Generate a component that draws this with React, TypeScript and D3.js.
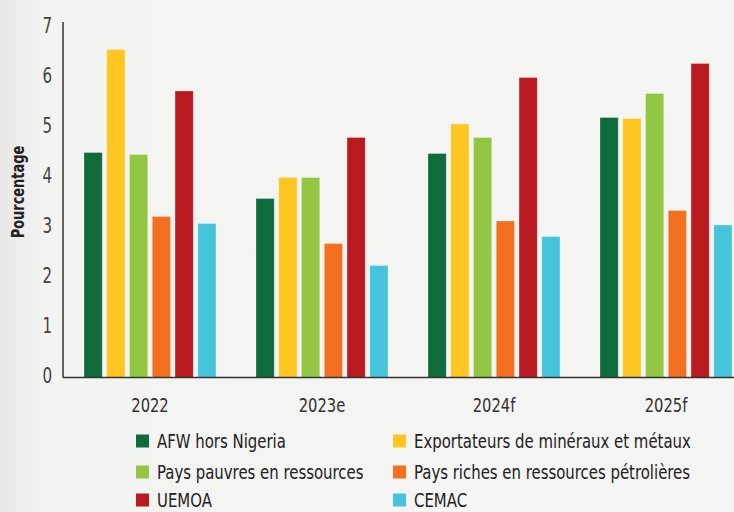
import React from 'react';
import * as d3 from 'd3';

// categories on the x axis
const years = ['2022', '2023e', '2024f', '2025f'];

// series (legend order)
const seriesNames = [
  'AFW hors Nigeria',
  'Exportateurs de minéraux et métaux',
  'Pays pauvres en ressources',
  'Pays riches en ressources pétrolières',
  'UEMOA',
  'CEMAC',
];
const seriesColors = ['#0e6b3b', '#ffc520', '#92c643', '#f37021', '#b81a20', '#46c4dc'];

// values per series, one per year
const afwHorsNigeria = [4.5, 3.58, 4.48, 5.2];
const exportateursMineraux = [6.56, 4.0, 5.07, 5.18];
const paysPauvres = [4.46, 4.0, 4.8, 5.68];
const paysRichesPetrole = [3.22, 2.68, 3.13, 3.34];
const uemoa = [5.73, 4.8, 6.0, 6.28];
const cemac = [3.08, 2.24, 2.82, 3.05];

const seriesValues = [afwHorsNigeria, exportateursMineraux, paysPauvres, paysRichesPetrole, uemoa, cemac];

const yTicks = [0, 1, 2, 3, 4, 5, 6, 7];

const W = 734;
const H = 512;
// the original uses a condensed face; squeeze DejaVu Sans Condensed a bit to match
const FONT = "'DejaVu Sans Condensed', 'Liberation Sans Narrow', sans-serif";

export default function App() {
  const x0 = 64;
  const yZero = 377.5;

  const y = d3.scaleLinear().domain([0, 7]).range([yZero, 27.5]);

  const x = d3.scaleBand<string>()
    .domain(years)
    .range([x0, x0 + 172 * 4])
    .paddingInner(0)
    .paddingOuter(0);

  const xInner = d3.scaleBand<string>()
    .domain(seriesNames)
    .range([20, x.bandwidth() - 20])
    .paddingInner(0.2)
    .paddingOuter(0);

  // legend layout: two columns, three rows
  const legendCols = [136, 393];
  const legendRows = [441, 472, 500];

  return (
    <div style={{ position: 'fixed', left: 0, top: 0 }}>
      <svg width={W} height={H} style={{ display: 'block' }}>
        <defs>
          <linearGradient id="bg" x1="0" x2="1" y1="0" y2="0">
            <stop offset="0" stopColor="#e8e8e6" />
            <stop offset="0.06" stopColor="#f3f3f1" />
            <stop offset="1" stopColor="#f5f5f3" />
          </linearGradient>
        </defs>
        <rect x={0} y={0} width={W} height={H} fill="url(#bg)" />

        {/* bars */}
        {years.map((yr, i) => (
          <g key={yr} transform={`translate(${x(yr)},0)`}>
            {seriesNames.map((s, j) => {
              const v = seriesValues[j][i];
              return (
                <rect
                  key={s}
                  x={xInner(s)}
                  y={y(v)}
                  width={xInner.bandwidth()}
                  height={yZero - y(v)}
                  fill={seriesColors[j]}
                  stroke="#ffffff"
                  strokeOpacity={0.35}
                  strokeWidth={0.8}
                />
              );
            })}
          </g>
        ))}

        {/* axes */}
        <line x1={63} x2={63} y1={22} y2={yZero} stroke="#333" strokeWidth={1.5} />
        <line x1={63} x2={W} y1={yZero} y2={yZero} stroke="#333" strokeWidth={1.5} />

        {/* y ticks */}
        {yTicks.map((t) => (
          <text
            key={t}
            transform={`translate(52,${y(t) + 5}) scale(0.8,1)`}
            textAnchor="end"
            fontFamily={FONT}
            fontSize={21}
            fill="#444"
          >
            {t}
          </text>
        ))}

        {/* x tick labels */}
        {years.map((yr) => (
          <text
            key={yr}
            transform={`translate(${(x(yr) as number) + x.bandwidth() / 2},412) scale(0.82,1)`}
            textAnchor="middle"
            fontFamily={FONT}
            fontSize={20}
            fill="#333"
          >
            {yr}
          </text>
        ))}

        {/* y axis title */}
        <text
          transform="translate(24,192) rotate(-90) scale(0.8,1)"
          textAnchor="middle"
          fontFamily={FONT}
          fontSize={18}
          fontWeight="bold"
          fill="#222"
        >
          Pourcentage
        </text>

        {/* legend */}
        {seriesNames.map((s, j) => {
          const col = legendCols[j % 2];
          const row = legendRows[Math.floor(j / 2)];
          return (
            <g key={s}>
              <rect x={col} y={row - 6.5} width={13} height={13} fill={seriesColors[j]} />
              <text
                transform={`translate(${col + 21},${row + 7}) scale(0.83,1)`}
                fontFamily={FONT}
                fontSize={20}
                fill="#222"
              >
                {s}
              </text>
            </g>
          );
        })}
      </svg>
    </div>
  );
}
